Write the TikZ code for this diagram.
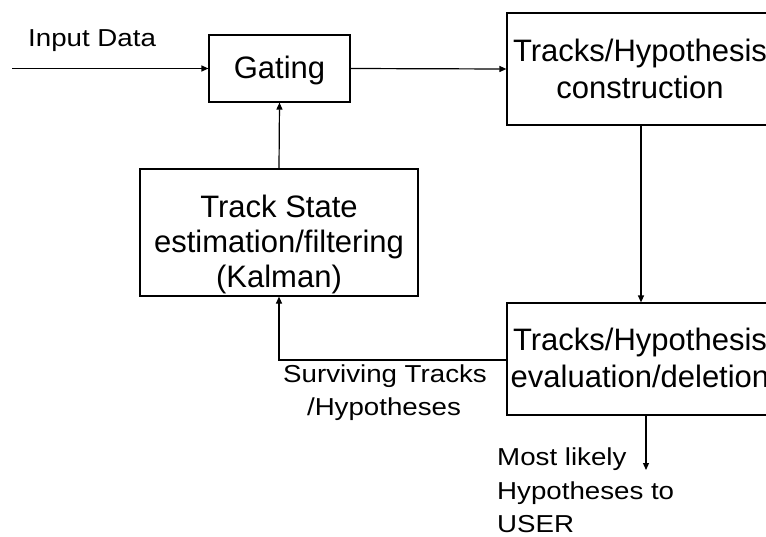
\documentclass[tikz,border=0pt]{standalone}
\usepackage{fontspec}
\setmainfont{Liberation Sans}
\newfontfamily\lblfont[FakeStretch=1.13]{Liberation Sans}
\usetikzlibrary{arrows.meta}
\begin{document}
\begin{tikzpicture}[x=1pt,y=-1pt,
  box/.style={draw,line width=1.2pt,inner sep=0pt,rectangle},
  boxtext/.style={font=\fontsize{31}{36}\selectfont,inner sep=0pt,anchor=base},
  lbl/.style={font=\lblfont\fontsize{24.5}{33}\selectfont,inner sep=0pt},
  conn/.style={line width=1.2pt,-{Triangle[length=7pt,width=6pt]}}]
\useasboundingbox (0,0) rectangle (766,536);
\clip (0,0) rectangle (766,536);
\fill[white] (0,0) rectangle (766,536);
% boxes
\node[box,minimum width=141pt,minimum height=67pt] (gate) at (279.5,68.5) {};
\node[box,minimum width=278pt,minimum height=127pt] (kal) at (279,232.5) {};
\node[box,minimum width=266pt,minimum height=112pt] (cons) at (640,69) {};
\node[box,minimum width=266pt,minimum height=112pt] (eval) at (640,359) {};
% box texts
\node[boxtext] (tgate) at (279.5,78) {Gating};
\node[boxtext] (tk1) at (279,217.5) {Track State};
\node[boxtext] (tk2) at (279,252.5) {estimation/filtering};
\node[boxtext] (tk3) at (279,287.5) {(Kalman)};
\node[boxtext] (tc1) at (640,61.7) {Tracks/Hypothesis};
\node[boxtext] (tc2) at (640,98) {construction};
\node[boxtext] (te1) at (640,350.5) {Tracks/Hypothesis};
\node[boxtext] (te2) at (640,387) {evaluation/deletion};
% labels
\node[lbl,anchor=base west] (inlbl) at (28,46.7) {Input Data};
\node[lbl,anchor=base] (surv1) at (385,382) {Surviving Tracks};
\node[lbl,anchor=base] (surv2) at (384,415) {/Hypotheses};
\node[lbl,anchor=base west] (ml1) at (497,465) {Most likely};
\node[lbl,anchor=base west] (ml2) at (497,499.5) {Hypotheses to};
\node[lbl,anchor=base west] (ml3) at (497,532) {USER};
% connectors
\coordinate (in) at (12,68.5);
\coordinate (out) at (646,470);
\draw[conn] (in) -- (gate.west);
\draw[conn] (gate.east) -- (cons.west);
\draw[conn] (cons.south -| 641,0) -- (eval.north -| 641,0);
\draw[conn] (eval.west |- 0,360) -| (kal.south);
\draw[conn] (kal.north) -- (gate.south);
\draw[conn] (eval.south -| out) -- (out);
\end{tikzpicture}
\end{document}
